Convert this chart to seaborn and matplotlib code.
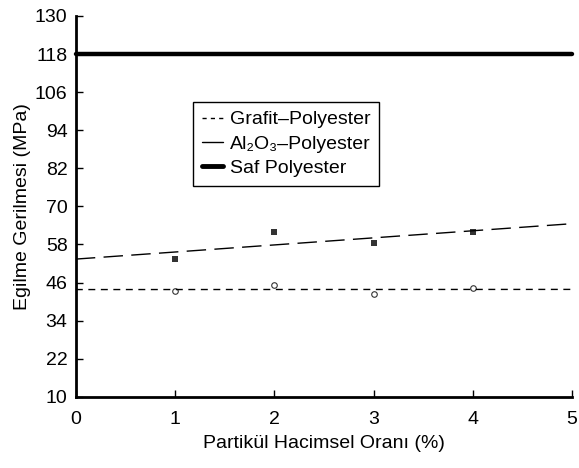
"""Flexural strength vs particle volume fraction."""

import matplotlib
matplotlib.use("Agg")
import matplotlib.pyplot as plt
from matplotlib.lines import Line2D
import pandas as pd
import seaborn as sns

# Data
oran = [1, 2, 3, 4]
grafit = [43.4, 45.2, 42.3, 44.4]      # open circles
al2o3 = [53.5, 61.8, 58.6, 62.0]       # filled squares
saf_polyester = 118

y_ticks = [10, 22, 34, 46, 58, 70, 82, 94, 106, 118, 130]
x_ticks = [0, 1, 2, 3, 4, 5]

df = pd.DataFrame({"oran": oran, "grafit": grafit, "al2o3": al2o3})

sns.set_style("ticks")
plt.rcParams["font.family"] = ["Liberation Sans", "DejaVu Sans"]
plt.rcParams["font.size"] = 14
plt.rcParams["text.color"] = "black"
plt.rcParams["axes.labelcolor"] = "black"

fig = plt.figure(figsize=(5.79, 4.68), dpi=100)
ax = fig.add_axes([0.131, 0.152, 0.857, 0.814])
ax.set_xlim(0, 5)
ax.set_ylim(10, 130)

# Regression lines over the full x range
sns.regplot(data=df, x="oran", y="grafit", ax=ax, ci=None, truncate=False,
            marker="o",
            scatter_kws=dict(s=16, facecolor="white", edgecolor="black", linewidths=0.8),
            line_kws=dict(color="black", lw=1.0, dashes=(5, 4)))
sns.regplot(data=df, x="oran", y="al2o3", ax=ax, ci=None, truncate=False,
            marker="s",
            scatter_kws=dict(s=22, color="black", linewidths=0),
            line_kws=dict(color="black", lw=1.0, dashes=(14, 6)))
ax.axhline(saf_polyester, color="black", lw=3.2, clip_on=False)

ax.set_xlim(0, 5)
ax.set_ylim(10, 130)
ax.set_xticks(x_ticks)
ax.set_yticks(y_ticks)
ax.tick_params(direction="in", length=5, width=1, colors="black", labelsize=14)
ax.tick_params(axis="x", pad=10)
ax.tick_params(axis="y", pad=6)
sns.despine(ax=ax)
for side in ["left", "bottom"]:
    ax.spines[side].set_linewidth(2)
    ax.spines[side].set_color("black")

ax.set_xlabel("Partikül Hacimsel Oranı (%)", fontsize=14, labelpad=5)
ax.set_ylabel("Egilme Gerilmesi (MPa)", fontsize=14, labelpad=3)

handles = [
    Line2D([], [], color="black", lw=1.0, dashes=(3, 3)),
    Line2D([], [], color="black", lw=1.0),
    Line2D([], [], color="black", lw=3.5),
]
labels = ["Grafit–Polyester", "Al₂O₃–Polyester", "Saf Polyester"]
leg = ax.legend(handles, labels, loc="upper left", bbox_to_anchor=(0.236, 0.774),
                fontsize=14, handlelength=1.1, handletextpad=0.35,
                labelspacing=0.35, borderpad=0.45, borderaxespad=0,
                fancybox=False, framealpha=1, edgecolor="black")
leg.get_frame().set_linewidth(1.0)

fig.savefig("out.png", dpi=100)
plt.close(fig)
